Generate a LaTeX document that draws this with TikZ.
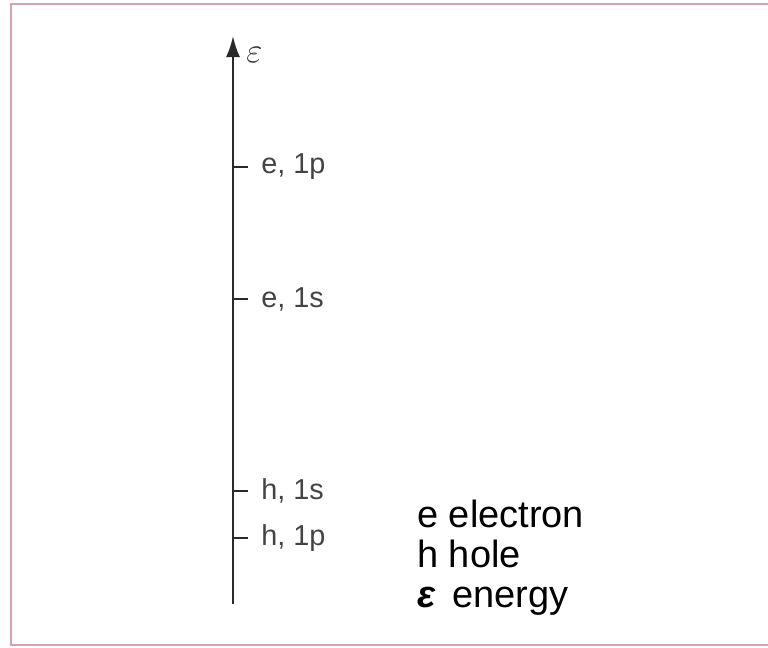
\documentclass[tikz,border=0pt]{standalone}
\usepackage{fontspec}
\setmainfont{Liberation Sans}
\usetikzlibrary{positioning,calc,arrows.meta}
\definecolor{framepink}{HTML}{D4A3B3}
\definecolor{axisgray}{HTML}{2A2A2A}
\definecolor{lblgray}{HTML}{444444}

\begin{document}
\begin{tikzpicture}[x=0.025cm, y=-0.025cm,
  level/.style={anchor=west, inner sep=0pt, text=lblgray,
             font=\fontsize{20.5}{22}\selectfont},
  legend/.style={anchor=base west, inner sep=0pt, align=left,
             font=\fontsize{27}{28.4}\selectfont},
  tick/.style={line width=1.4pt, axisgray},
  axis/.style={line width=1.6pt, axisgray, -{Latex[length=15pt, width=10pt]}},
]
\useasboundingbox (0,0) rectangle (768,648);
\draw[framepink, line width=2pt] (790,4) -- (11,4) -- (11,645) -- (790,645);

% energy axis
\coordinate (bot) at (233,604);
\coordinate (top) at (233,36);
\draw[axis] (bot) -- (top);
\node[anchor=west, inner sep=0pt, text=axisgray, font=\fontsize{24}{26}\selectfont]
  (eps) at (246,55) {$\varepsilon$};

% levels
\node[level] (e1p) at (261,167) {e, 1p};
\node[level] (e1s) at (261,299) {e, 1s};
\node[level] (h1s) at (261,491) {h, 1s};
\node[level] (h1p) at (261,538) {h, 1p};
\foreach \lv in {e1p,e1s,h1s,h1p}
  \draw[tick] (bot |- \lv.west) -- ++(15,0);

% key (base = last line)
\node[legend] (key) at (417,607)
  {e electron\\h hole\\{\bfseries\itshape ε}\, energy};
\end{tikzpicture}
\end{document}
